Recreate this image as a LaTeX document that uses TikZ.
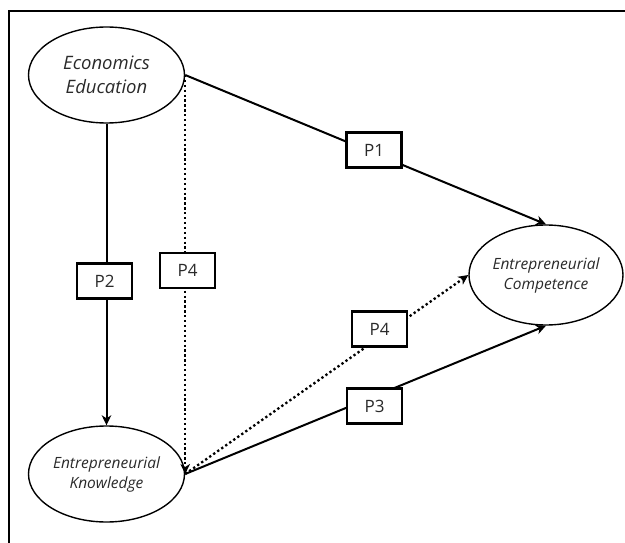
\documentclass[tikz,border=0pt]{standalone}
\usepackage{fontspec}
\setmainfont{Open Sans}
\usetikzlibrary{shapes.geometric,arrows.meta}
\definecolor{txt}{HTML}{2A2A2A}
\tikzset{
  construct/.style={ellipse, draw, line width=1.4pt, inner sep=0pt, align=center, text=txt, font=\itshape},
  pbox/.style={rectangle, draw, fill=white, line width=2.2pt, minimum width=55pt, minimum height=35pt, inner sep=0pt, font=\fontsize{17}{20}\selectfont, text=txt},
  solidarrow/.style={line width=2pt, -{Stealth[length=10pt,width=9.5pt,inset=3pt]}},
  dotarrow/.style={line width=2.3pt, dash pattern=on 2.3pt off 2.6pt, -{Stealth[length=10pt,width=9.5pt,inset=3pt]}},
  frame/.style={line width=1.8pt}
}
\begin{document}
\begin{tikzpicture}[x=1pt,y=-1pt]
\useasboundingbox (0,0) rectangle (625,543);
% frame
\coordinate (fb) at (9,543);
\coordinate (ftl) at (9,11);
\coordinate (fr) at (625,11);
\draw[frame] (fb) -- (ftl) -- (fr);
% constructs
\node[construct, minimum width=156pt, minimum height=96pt, font=\itshape\fontsize{18.5}{24}\selectfont] (EE) at (106.5,75) {Economics\\Education};
\node[construct, minimum width=156pt, minimum height=96pt, font=\itshape\fontsize{15.5}{20}\selectfont] (EK) at (106.5,474) {Entrepreneurial\\Knowledge};
\node[construct, minimum width=154pt, minimum height=100pt, font=\itshape\fontsize{15.5}{20}\selectfont] (EC) at (546,275) {Entrepreneurial\\Competence};
% connectors
\draw[solidarrow] (EE.east) -- (EC.north);
\draw[solidarrow] (EE.south) -- (EK.north);
\draw[dotarrow] (EE.east) -- (EK.east);
\draw[dotarrow] (EK.east) -- (EC.west);
\draw[solidarrow] (EK.east) -- (EC.south);
% labels
\node[pbox] (p1) at (374,150) {P1};
\node[pbox] (p2) at (104.5,281) {P2};
\node[pbox] (p4a) at (187.5,270.5) {P4};
\node[pbox] (p4b) at (379.5,329) {P4};
\node[pbox] (p3) at (374.5,406) {P3};
\end{tikzpicture}
\end{document}
